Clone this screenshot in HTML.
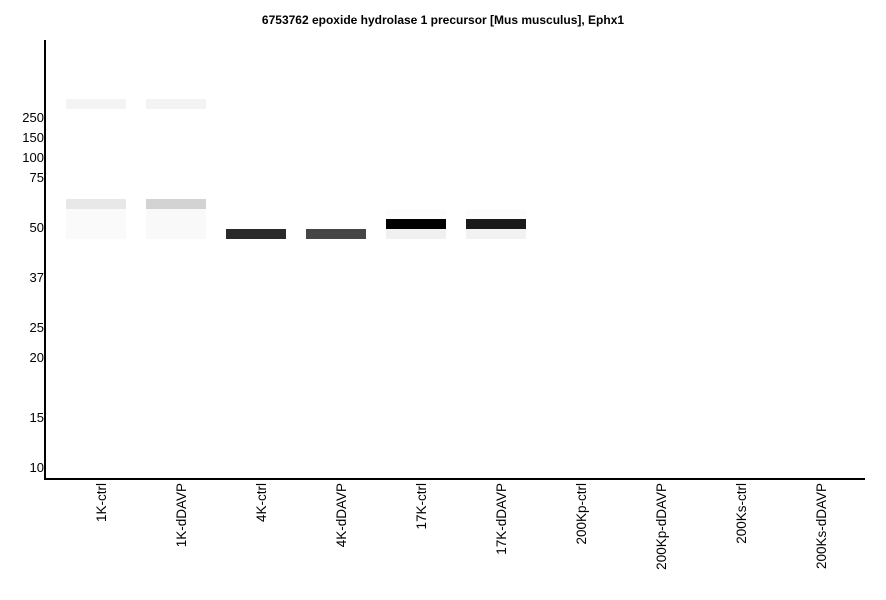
<!DOCTYPE html>
<html><head><meta charset="utf-8"><style>
body{margin:0;background:#fff;}
svg text{font-family:"Liberation Sans",sans-serif;}
</style></head><body>
<svg width="886" height="595" xmlns="http://www.w3.org/2000/svg">
<rect width="886" height="595" fill="#fff"/>
<text x="443" y="24" font-size="12" font-weight="bold" text-anchor="middle">6753762 epoxide hydrolase 1 precursor [Mus musculus], Ephx1</text>
<g font-size="13" text-anchor="end" fill="#000">
<text x="44" y="122">250</text><text x="44" y="142">150</text><text x="44" y="162">100</text>
<text x="44" y="182">75</text><text x="44" y="232">50</text><text x="44" y="282">37</text>
<text x="44" y="332">25</text><text x="44" y="362">20</text><text x="44" y="422">15</text>
<text x="44" y="472">10</text>
</g>
<rect x="66" y="99" width="60" height="10" fill="#f4f4f4"/>
<rect x="146" y="99" width="60" height="10" fill="#f3f3f3"/>
<rect x="66" y="199" width="60" height="10" fill="#e8e8e8"/>
<rect x="146" y="199" width="60" height="10" fill="#d3d3d3"/>
<rect x="66" y="209" width="60" height="30" fill="#fafafa"/>
<rect x="146" y="209" width="60" height="30" fill="#f8f9f8"/>
<rect x="226" y="229" width="60" height="10" fill="#2a2a2a"/>
<rect x="306" y="229" width="60" height="10" fill="#454545"/>
<rect x="386" y="209" width="60" height="10" fill="#fcfcfc"/>
<rect x="386" y="219" width="60" height="10" fill="#000"/>
<rect x="386" y="229" width="60" height="10" fill="#f0f0f0"/>
<rect x="466" y="209" width="60" height="10" fill="#fcfcfc"/>
<rect x="466" y="219" width="60" height="10" fill="#1a1a1a"/>
<rect x="466" y="229" width="60" height="10" fill="#f2f2f2"/>
<rect x="44" y="40" width="2" height="440" fill="#000"/>
<rect x="44" y="478" width="821" height="2" fill="#000"/>
<g font-size="13.5" text-anchor="end" fill="#000">
<text transform="translate(106,483) rotate(-90)">1K-ctrl</text>
<text transform="translate(186,483) rotate(-90)">1K-dDAVP</text>
<text transform="translate(266,483) rotate(-90)">4K-ctrl</text>
<text transform="translate(346,483) rotate(-90)">4K-dDAVP</text>
<text transform="translate(426,483) rotate(-90)">17K-ctrl</text>
<text transform="translate(506,483) rotate(-90)">17K-dDAVP</text>
<text transform="translate(586,483) rotate(-90)">200Kp-ctrl</text>
<text transform="translate(666,483) rotate(-90)">200Kp-dDAVP</text>
<text transform="translate(746,483) rotate(-90)">200Ks-ctrl</text>
<text transform="translate(826,483) rotate(-90)">200Ks-dDAVP</text>
</g>
</svg>
</body></html>
